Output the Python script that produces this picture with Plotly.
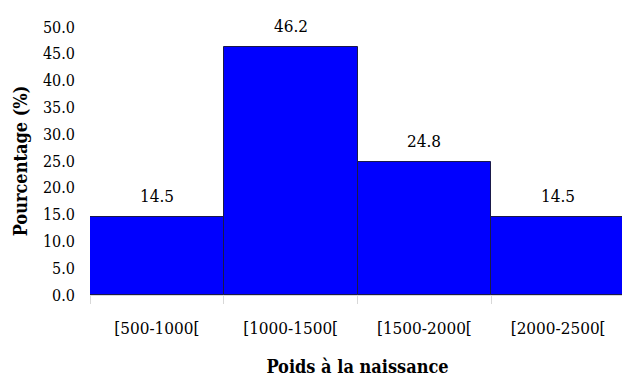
import plotly.graph_objects as go

categories = ["[500-1000[", "[1000-1500[", "[1500-2000[", "[2000-2500["]
values = [14.5, 46.2, 24.8, 14.5]
value_labels = ["14.5", "46.2", "24.8", "14.5"]
y_ticks = [0, 5, 10, 15, 20, 25, 30, 35, 40, 45, 50]

SERIF = "DejaVu Serif Condensed, DejaVu Serif"

fig = go.Figure()
fig.add_trace(go.Bar(
    x=categories, y=values,
    marker=dict(color="#0000FF", line=dict(color="#1a1a4a", width=1)),
    width=1.0,
))
for c, v, t in zip(categories, values, value_labels):
    fig.add_annotation(x=c, y=v, text=t, showarrow=False, yshift=21,
                       font=dict(family=SERIF, size=17, color="black"))

fig.update_layout(
    width=622, height=369,
    margin=dict(l=82, r=5, t=19, b=82, autoexpand=False),
    paper_bgcolor="white", plot_bgcolor="white",
    bargap=0, showlegend=False,
    font=dict(family=SERIF, size=17, color="black"),
)
fig.update_xaxes(
    type="category", tickson="boundaries", ticks="outside", ticklen=8,
    tickcolor="#d8d8d8", showline=True, linecolor="#d8d8d8",
    tickfont=dict(family=SERIF, size=17), automargin=False, ticklabelstandoff=18,
    title=dict(text="<b>Poids à la naissance</b>", font=dict(family=SERIF, size=18), standoff=22),
)
fig.update_yaxes(
    range=[0, 50], tickvals=y_ticks, ticktext=[f"{v:.1f}" for v in y_ticks],
    showgrid=False, zeroline=False, showline=False, ticks="",
    tickfont=dict(family=SERIF, size=16), ticklabelstandoff=14, automargin=False,
    title=dict(text="<b>Pourcentage (%)</b>", font=dict(family=SERIF, size=18), standoff=10),
)
fig.write_html("out.html")
